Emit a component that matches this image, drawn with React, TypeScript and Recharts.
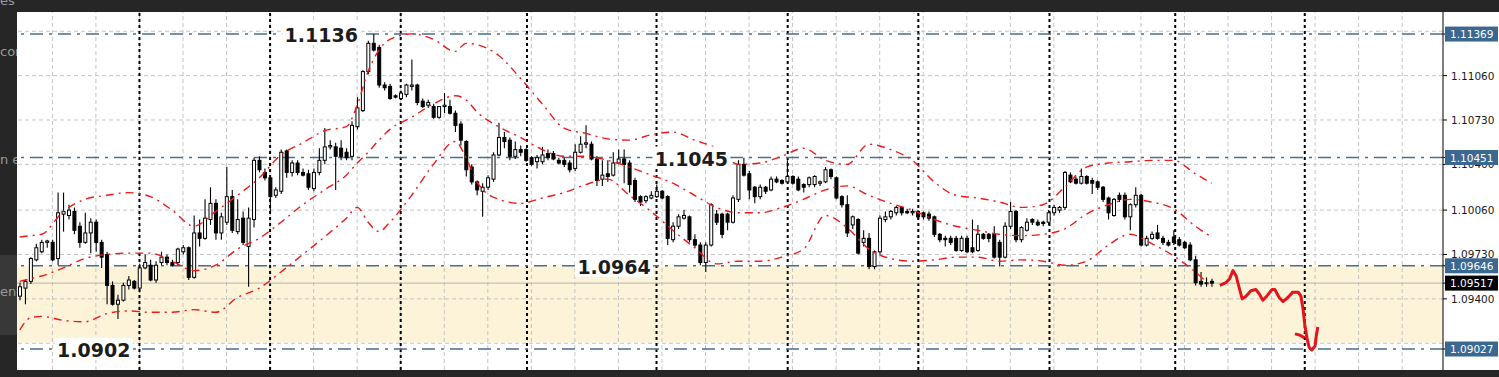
import React from "react";
import {
  ComposedChart,
  Bar,
  Line,
  Scatter,
  XAxis,
  YAxis,
  ReferenceLine,
  ReferenceArea,
  ReferenceDot,
} from "recharts";

// EURUSD H1 candles, one array per session: [open, high, low, close]
type Candle = [number, number, number, number];

const day1: Candle[] = [
  [1.0942, 1.0952, 1.0939, 1.0949], [1.0948, 1.0954, 1.0936, 1.0953], [1.0953, 1.0971, 1.0951, 1.097],
  [1.0969, 1.0981, 1.0968, 1.0978], [1.0975, 1.0984, 1.0974, 1.0982], [1.0982, 1.0984, 1.0978, 1.0983],
  [1.0982, 1.0984, 1.0968, 1.0969], [1.097, 1.1019, 1.0965, 1.1004], [1.1003, 1.1019, 1.099, 1.1005],
  [1.1002, 1.101, 1.0999, 1.1006], [1.1005, 1.1008, 1.0988, 1.0991], [1.0994, 1.0997, 1.0978, 1.0982],
  [1.0982, 1.1004, 1.0981, 1.0989], [1.0989, 1.1, 1.0974, 1.0997], [1.0997, 1.0999, 1.0975, 1.0982],
  [1.0982, 1.0984, 1.0963, 1.0971], [1.0973, 1.0975, 1.0936, 1.095], [1.095, 1.0953, 1.0935, 1.0936],
  [1.0936, 1.0943, 1.0925, 1.0939], [1.0939, 1.0952, 1.0938, 1.095], [1.095, 1.0957, 1.0947, 1.0954],
  [1.0953, 1.0954, 1.0947, 1.0948],
];
const day2: Candle[] = [
  [1.0948, 1.0966, 1.0945, 1.0963], [1.0963, 1.0973, 1.0962, 1.0967], [1.0965, 1.0969, 1.0953, 1.0954],
  [1.0954, 1.0968, 1.0952, 1.0965], [1.0967, 1.0975, 1.0965, 1.0971], [1.0971, 1.0973, 1.0965, 1.0967],
  [1.0967, 1.0969, 1.0964, 1.0965], [1.0967, 1.0978, 1.0965, 1.0977], [1.0975, 1.098, 1.0973, 1.0978],
  [1.0978, 1.0979, 1.0954, 1.0956], [1.0956, 1.1002, 1.0955, 1.0989], [1.0989, 1.0999, 1.0979, 1.0985],
  [1.0985, 1.1014, 1.0984, 1.1], [1.0999, 1.1023, 1.0995, 1.1011], [1.1011, 1.1014, 1.0984, 1.0989],
  [1.0989, 1.1004, 1.0984, 1.1001], [1.0997, 1.1038, 1.0995, 1.1016], [1.1016, 1.1021, 1.0989, 1.0991],
  [1.099, 1.1014, 1.0988, 1.0999], [1.1, 1.1005, 1.098, 1.0982], [1.0979, 1.1008, 1.0949, 1.1],
  [1.0999, 1.1045, 1.0993, 1.1043], [1.1043, 1.1046, 1.1034, 1.1036], [1.1034, 1.1037, 1.1028, 1.103],
];
const day3: Candle[] = [
  [1.103, 1.1031, 1.1005, 1.1016], [1.1017, 1.1023, 1.1015, 1.1021], [1.102, 1.1051, 1.1018, 1.1049],
  [1.105, 1.1051, 1.103, 1.1034], [1.1034, 1.1043, 1.1031, 1.1041], [1.1041, 1.1043, 1.1032, 1.1034],
  [1.1034, 1.1037, 1.1031, 1.1032], [1.1033, 1.1036, 1.1021, 1.1023], [1.1022, 1.1037, 1.102, 1.1034],
  [1.1034, 1.1052, 1.1032, 1.1043], [1.1043, 1.1067, 1.104, 1.1053], [1.1053, 1.1058, 1.1051, 1.1054],
  [1.1053, 1.1056, 1.1021, 1.1046], [1.1052, 1.1058, 1.1043, 1.1046], [1.1049, 1.1052, 1.1043, 1.1045],
  [1.1046, 1.1072, 1.1043, 1.1069], [1.1068, 1.109, 1.1066, 1.1082], [1.108, 1.111, 1.1079, 1.1109],
  [1.1109, 1.1132, 1.1107, 1.113], [1.113, 1.1137, 1.1124, 1.1125], [1.1127, 1.1129, 1.1097, 1.1099],
  [1.1099, 1.1101, 1.1095, 1.1097], [1.1098, 1.11, 1.1088, 1.1089], [1.1091, 1.1092, 1.1089, 1.109],
];
const day4: Candle[] = [
  [1.1089, 1.1095, 1.1088, 1.1093], [1.1092, 1.11, 1.109, 1.1099], [1.1098, 1.1118, 1.1095, 1.1099],
  [1.1099, 1.11, 1.1084, 1.1086], [1.1087, 1.1089, 1.1082, 1.1083], [1.1084, 1.1088, 1.1082, 1.1086],
  [1.1083, 1.1085, 1.1074, 1.1075], [1.1075, 1.1083, 1.1074, 1.1083], [1.1083, 1.1093, 1.1078, 1.1084],
  [1.1083, 1.1088, 1.1077, 1.1078], [1.1078, 1.108, 1.1064, 1.1069], [1.107, 1.1072, 1.1054, 1.1058],
  [1.1057, 1.1058, 1.1031, 1.1036], [1.1038, 1.104, 1.1025, 1.1027], [1.1027, 1.1028, 1.1017, 1.1021],
  [1.102, 1.1026, 1.1001, 1.1023], [1.1023, 1.1032, 1.1021, 1.103], [1.1029, 1.1049, 1.1027, 1.1047],
  [1.1047, 1.1071, 1.1046, 1.106], [1.106, 1.1064, 1.1052, 1.1057], [1.1058, 1.106, 1.1043, 1.1046],
  [1.1046, 1.1057, 1.1044, 1.1051], [1.1051, 1.1054, 1.1046, 1.1049],
];
const day5: Candle[] = [
  [1.1051, 1.1052, 1.1042, 1.1043], [1.1045, 1.1046, 1.1039, 1.104], [1.1042, 1.1047, 1.1037, 1.1045],
  [1.1042, 1.1053, 1.104, 1.1047], [1.1048, 1.1051, 1.1043, 1.1045], [1.1048, 1.105, 1.1043, 1.1044],
  [1.1043, 1.1045, 1.104, 1.1041], [1.1043, 1.1045, 1.1038, 1.104], [1.1041, 1.1043, 1.1034, 1.1036],
  [1.1037, 1.1055, 1.1035, 1.1049], [1.1049, 1.1061, 1.1048, 1.1055], [1.1055, 1.1069, 1.1052, 1.1056],
  [1.1055, 1.1057, 1.1043, 1.1044], [1.1044, 1.1046, 1.1024, 1.1028], [1.1029, 1.1043, 1.1024, 1.1032],
  [1.1033, 1.1043, 1.1027, 1.1031], [1.1032, 1.1049, 1.1031, 1.1041], [1.1041, 1.1051, 1.104, 1.1044],
  [1.1044, 1.1051, 1.1026, 1.104], [1.1041, 1.1043, 1.1019, 1.1025], [1.1028, 1.103, 1.1012, 1.1014],
  [1.1016, 1.1017, 1.1009, 1.1012], [1.1013, 1.1017, 1.1011, 1.1016], [1.1015, 1.102, 1.1014, 1.1017],
];
const day6: Candle[] = [
  [1.1016, 1.1025, 1.1015, 1.102], [1.102, 1.1021, 1.1014, 1.1015], [1.1016, 1.1017, 1.098, 1.0985],
  [1.0984, 1.0997, 1.0982, 1.0994], [1.0994, 1.1003, 1.0992, 1.1001], [1.1, 1.1006, 1.0999, 1.1002],
  [1.1001, 1.1002, 1.0982, 1.0984], [1.0984, 1.0988, 1.0978, 1.098], [1.098, 1.0982, 1.0965, 1.0967],
  [1.0967, 1.0982, 1.096, 1.098], [1.098, 1.1011, 1.0979, 1.101], [1.1003, 1.1006, 1.0995, 1.0997],
  [1.1003, 1.1004, 1.0985, 1.0988], [1.1003, 1.1004, 1.0991, 1.0997], [1.0997, 1.1017, 1.0996, 1.1015],
  [1.1014, 1.1043, 1.1012, 1.104], [1.104, 1.1045, 1.1031, 1.1032], [1.1033, 1.1035, 1.1014, 1.1021],
  [1.1023, 1.1024, 1.1011, 1.1016], [1.1016, 1.1025, 1.1014, 1.1023], [1.1023, 1.1024, 1.1018, 1.102],
  [1.1021, 1.1031, 1.102, 1.1029], [1.1029, 1.1031, 1.1026, 1.1027], [1.1028, 1.1029, 1.1025, 1.1026],
];
const day7: Candle[] = [
  [1.1027, 1.1043, 1.1026, 1.1031], [1.1031, 1.1032, 1.1025, 1.1026], [1.1029, 1.1031, 1.102, 1.1021],
  [1.1025, 1.1026, 1.1019, 1.1023], [1.1025, 1.1031, 1.1023, 1.103], [1.1025, 1.1032, 1.1023, 1.1031],
  [1.1026, 1.1028, 1.1024, 1.1027], [1.1027, 1.1038, 1.1026, 1.1036], [1.1036, 1.1037, 1.1029, 1.1031],
  [1.103, 1.1031, 1.1014, 1.1015], [1.1016, 1.1017, 1.1008, 1.101], [1.101, 1.1017, 1.0986, 1.0989],
  [1.0995, 1.1002, 1.0992, 1.1001], [1.0999, 1.1, 1.0973, 1.0974], [1.0982, 1.0991, 1.0979, 1.0985],
  [1.0985, 1.0989, 1.0962, 1.0964], [1.0964, 1.0976, 1.0962, 1.0975], [1.0975, 1.1002, 1.0973, 1.1],
  [1.0999, 1.1005, 1.0997, 1.1001], [1.1001, 1.1006, 1.0999, 1.1005], [1.1004, 1.1009, 1.1002, 1.1008],
  [1.1008, 1.1009, 1.1002, 1.1004], [1.1005, 1.1007, 1.1003, 1.1004], [1.1004, 1.1007, 1.1002, 1.1005],
];
const day8: Candle[] = [
  [1.1005, 1.1006, 1.0999, 1.1001], [1.1004, 1.1005, 1.0999, 1.1001], [1.1003, 1.1005, 1.0998, 1.1],
  [1.1001, 1.1002, 1.0986, 1.0988], [1.0988, 1.0989, 1.0982, 1.0984], [1.0985, 1.0987, 1.0979, 1.0984],
  [1.0985, 1.0987, 1.098, 1.0982], [1.0985, 1.0987, 1.0975, 1.0976], [1.0976, 1.0987, 1.0975, 1.0985],
  [1.0985, 1.0987, 1.0974, 1.0975], [1.0978, 1.0999, 1.0974, 1.0975], [1.0976, 1.0995, 1.0975, 1.0988],
  [1.0988, 1.0989, 1.0984, 1.0985], [1.0988, 1.0989, 1.0982, 1.0985], [1.0988, 1.0994, 1.097, 1.0971],
  [1.0982, 1.0984, 1.0964, 1.0971], [1.0971, 1.0997, 1.097, 1.0994], [1.0994, 1.1012, 1.0992, 1.1005],
  [1.1005, 1.1006, 1.0982, 1.0984], [1.0984, 1.0994, 1.0982, 1.0993], [1.0991, 1.1, 1.099, 1.0997],
  [1.0999, 1.1, 1.0995, 1.0997], [1.0997, 1.0999, 1.0994, 1.0995], [1.0997, 1.0998, 1.0994, 1.0996],
];
const day9: Candle[] = [
  [1.0997, 1.1006, 1.0995, 1.1004], [1.1004, 1.101, 1.1002, 1.1008], [1.1006, 1.1009, 1.1004, 1.1008],
  [1.1008, 1.1035, 1.1006, 1.1034], [1.1032, 1.1034, 1.1026, 1.1027], [1.1029, 1.1031, 1.1025, 1.1026],
  [1.1026, 1.1037, 1.1025, 1.1031], [1.1031, 1.1032, 1.1025, 1.1026], [1.1028, 1.103, 1.1018, 1.1026],
  [1.1027, 1.1028, 1.1021, 1.1023], [1.1023, 1.1024, 1.1012, 1.1014], [1.1015, 1.1016, 1.0999, 1.1004],
  [1.1002, 1.1015, 1.1001, 1.1014], [1.1017, 1.1019, 1.1012, 1.1014], [1.1017, 1.1019, 1.0999, 1.1001],
  [1.1001, 1.1011, 1.0991, 1.101], [1.101, 1.1023, 1.1008, 1.1017], [1.1017, 1.1018, 1.0979, 1.098],
  [1.098, 1.0987, 1.0979, 1.0985], [1.0985, 1.099, 1.0984, 1.0988], [1.0989, 1.0995, 1.0984, 1.0985],
  [1.0985, 1.0987, 1.098, 1.0982], [1.0982, 1.0984, 1.0979, 1.098],
];
const day10: Candle[] = [
  [1.0986, 1.0991, 1.098, 1.0982], [1.0984, 1.0986, 1.0979, 1.098], [1.0982, 1.0983, 1.0977, 1.0978],
  [1.098, 1.0982, 1.0968, 1.0969], [1.0969, 1.0972, 1.095, 1.0952], [1.0953, 1.096, 1.0949, 1.0951],
  [1.0952, 1.0956, 1.0949, 1.0952], [1.0953, 1.0955, 1.0949, 1.09517],
];

// Bollinger bands at these bar positions
const bandIdx = [0, 2, 4, 8, 12, 16, 20, 24, 28, 32, 36, 40, 44, 48, 52, 56, 60, 62, 64, 66, 68, 72, 76, 80, 82, 84, 88, 92, 96, 100,
  104, 108, 112, 116, 120, 124, 128, 132, 136, 140, 144, 148, 152, 156, 160, 164, 168, 172, 176, 180, 184, 188, 192, 196, 200, 204, 208, 212, 216, 219];
const upperBand = [1.0986, 1.0987, 1.0988, 1.1005, 1.1014, 1.1017, 1.1019, 1.1016, 1.1006, 1.0994,
  1.1005, 1.1017, 1.103, 1.1047, 1.1056, 1.1065, 1.1068, 1.1084, 1.1109, 1.1125,
  1.1133, 1.1137, 1.1133, 1.1124, 1.113, 1.1129, 1.1121, 1.1104, 1.1085, 1.1067,
  1.1063, 1.1059, 1.1058, 1.1062, 1.1064, 1.1058, 1.1052, 1.104, 1.1041, 1.1046,
  1.1052, 1.1043, 1.104, 1.1055, 1.1051, 1.1043, 1.1027, 1.1017, 1.1015, 1.1012,
  1.1008, 1.101, 1.1023, 1.1038, 1.1041, 1.1042, 1.1043, 1.1043, 1.1033, 1.1026];
const middleBand = [1.0953, 1.0955, 1.0957, 1.0963, 1.097, 1.0973, 1.0974, 1.0974, 1.0968, 1.0961,
  1.0965, 1.0977, 1.0985, 1.0997, 1.101, 1.1021, 1.1032, 1.1041, 1.1049, 1.1058,
  1.1066, 1.1075, 1.1085, 1.1091, 1.1088, 1.1079, 1.1068, 1.106, 1.1051, 1.1046,
  1.1046, 1.1043, 1.1038, 1.1032, 1.1026, 1.1017, 1.1008, 1.1004, 1.1004, 1.1008,
  1.1014, 1.1021, 1.1024, 1.1017, 1.1011, 1.1006, 1.0999, 1.0994, 1.0991, 1.0988,
  1.0987, 1.0988, 1.0992, 1.1003, 1.101, 1.1014, 1.1012, 1.1007, 1.0994, 1.0986];
const lowerBand = [1.0917, 1.0926, 1.0927, 1.0924, 1.0923, 1.0929, 1.0931, 1.093, 1.093, 1.0932,
  1.093, 1.0941, 1.0948, 1.096, 1.0973, 1.0986, 1.1, 1.1008, 1.0997, 1.099,
  1.0997, 1.1017, 1.104, 1.1057, 1.1045, 1.1027, 1.1014, 1.1011, 1.1015, 1.1019,
  1.1025, 1.1029, 1.1017, 1.1005, 1.0991, 1.0978, 1.0966, 1.0968, 1.0968, 1.0971,
  1.0977, 1.1002, 1.0993, 1.0977, 1.097, 1.0968, 1.0969, 1.0971, 1.0971, 1.0968,
  1.0969, 1.0968, 1.0965, 1.0968, 1.098, 1.0988, 1.0981, 1.0972, 1.096, 1.0949];

// hand-drawn forecast (bar position, price)
const forecastX = [220.5, 221.6, 222.3, 222.9, 223.5, 224.0, 224.6, 225.3, 226.2, 227.1, 227.7, 228.4, 229.1, 230.1, 230.6,
  231.4, 232.1, 233.0, 233.9, 234.9, 235.4, 235.8, 236.1, 236.5, 236.9, 237.4, 238.0, 238.2, 238.5];
const forecastP = [1.095, 1.0952, 1.0955, 1.0961, 1.0957, 1.0949, 1.094, 1.0942, 1.0946, 1.0947, 1.0944, 1.0939, 1.0942, 1.0947, 1.0947,
  1.0941, 1.0938, 1.0941, 1.0945, 1.0945, 1.0942, 1.0932, 1.0921, 1.0911, 1.0904, 1.0902, 1.0905, 1.0912, 1.0919];
const hookX = [234.3, 235.2, 236.1];
const hookP = [1.0914, 1.0913, 1.0911];

const levels = [1.11369, 1.10451, 1.09646, 1.09027];
const lastPrice = 1.09517;
const zoneBottom = 1.09075;
const gridPrices = [1.0907, 1.094, 1.0973, 1.1006, 1.104, 1.1073, 1.1106, 1.1139];
const axisLabels = [1.094, 1.0973, 1.1006, 1.104, 1.1073, 1.1106];
const daySeparators = [22, 46, 70, 93.2, 117, 141.1, 165.1, 189.2, 212.3, 236.1];
const noteTexts = ["1.1136", "1.1045", "1.0964", "1.0902"];
const noteSlots = [55.4, 123.4, 109.2, 13.6];

const SLOTS = 262;
const candles = [...day1, ...day2, ...day3, ...day4, ...day5, ...day6, ...day7, ...day8, ...day9, ...day10];
const rows = Array.from({ length: SLOTS }, (_, i) => {
  const c = candles[i];
  const b = bandIdx.indexOf(i);
  return {
    i,
    open: c ? c[0] : undefined,
    high: c ? c[1] : undefined,
    low: c ? c[2] : undefined,
    close: c ? c[3] : undefined,
    range: c ? [c[2], c[1]] : undefined,
    ub: b >= 0 ? upperBand[b] : undefined,
    mb: b >= 0 ? middleBand[b] : undefined,
    lb: b >= 0 ? lowerBand[b] : undefined,
  };
});
const forecast = forecastX.map((x, k) => ({ x, p: forecastP[k] }));
const hook = hookX.map((x, k) => ({ x, p: hookP[k] }));
const gridSlots = Array.from({ length: 32 }, (_, k) => 6 + 8 * k);

const Candle = (props: any) => {
  const { x, y, width, height, payload } = props;
  if (!payload || payload.high == null) return <g />;
  const top = Math.min(y, y + height);
  const h = Math.abs(height);
  const k = h / (payload.high - payload.low);
  const cx = x + width / 2;
  const bTop = top + (payload.high - Math.max(payload.open, payload.close)) * k;
  const bBot = top + (payload.high - Math.min(payload.open, payload.close)) * k;
  const up = payload.close >= payload.open;
  return (
    <g>
      <line x1={cx} x2={cx} y1={top} y2={top + h} stroke="#000" strokeWidth={1.1} />
      <rect x={cx - 1.5} y={bTop} width={3} height={Math.max(bBot - bTop, 1)} fill={up ? "#fff" : "#000"} stroke="#000" strokeWidth={1} />
    </g>
  );
};

const PriceTick = (props: any) => {
  const { x, y, payload } = props;
  const v = payload.value;
  const isLevel = levels.includes(v);
  const isLast = v === lastPrice;
  const font = { fontFamily: "DejaVu Sans", fontSize: 10.5 };
  if (isLevel || isLast) {
    return (
      <g>
        <rect x={x - 4} y={y - 7.5} width={53} height={15} fill={isLast ? "#000" : "#3a6890"} />
        <text x={x + 1} y={y + 4} fill="#fff" {...font}>{v.toFixed(5)}</text>
      </g>
    );
  }
  return <text x={x + 2} y={y + 4} fill="#1a1a1a" {...font}>{v.toFixed(5)}</text>;
};

const Note = ({ cx, cy, text }: { cx: number; cy: number; text: string }) => (
  <g>
    <rect x={cx - 39} y={cy - 11} width={78} height={22} fill="#fff" />
    <text x={cx} y={cy + 8} textAnchor="middle" fill="#1c1c1c" fontFamily="DejaVu Sans" fontWeight="bold" fontSize={19}>
      {text}
    </text>
  </g>
);

const sideText = { position: "absolute" as const, left: 0, color: "#9a9a9a", fontFamily: "DejaVu Sans", fontSize: 13, whiteSpace: "nowrap" as const };

export default function App() {
  return (
    <div style={{ position: "fixed", left: 0, top: 0, width: 1499, height: 377, background: "#262626", overflow: "hidden" }}>
      <div style={{ position: "absolute", left: 0, top: 0, width: 17, height: 377, overflow: "hidden" }}>
        <div style={{ position: "absolute", left: 0, top: 255, width: 17, height: 80, background: "#383838" }} />
        <span style={{ ...sideText, top: -7 }}>es</span>
        <span style={{ ...sideText, top: 44 }}>con</span>
        <span style={{ ...sideText, top: 152 }}>n e</span>
        <span style={{ ...sideText, top: 284 }}>ent</span>
      </div>
      <div style={{ position: "absolute", left: 17, top: 12, width: 1482, height: 358, background: "#fff" }} />
      <div style={{ position: "absolute", left: 0, top: 0 }}>
        <ComposedChart width={1499} height={377} data={rows} margin={{ top: 12, right: 0, bottom: 7, left: 17 }}>
          <XAxis xAxisId="c" dataKey="i" type="category" hide />
          <XAxis xAxisId="n" dataKey="x" type="number" domain={[-0.5, SLOTS - 0.5]} allowDataOverflow hide />
          <YAxis
            orientation="right"
            width={56}
            domain={[1.08871, 1.11533]}
            allowDataOverflow
            ticks={[...axisLabels, ...levels, lastPrice]}
            interval={0}
            tickSize={4}
            tickMargin={2}
            tickLine={{ stroke: "#000" }}
            axisLine={{ stroke: "#000" }}
            tick={(p: any) => <PriceTick {...p} />}
          />
          <ReferenceArea xAxisId="n" y1={zoneBottom} y2={levels[2]} fill="#fdf3d9" fillOpacity={1} stroke="none" zIndex={-150} />
          {gridPrices.map((p) => (
            <ReferenceLine key={"h" + p} xAxisId="n" y={p} stroke="#c4c4c4" strokeDasharray="4 3" zIndex={-100} />
          ))}
          {gridSlots.map((s) => (
            <ReferenceLine key={"v" + s} xAxisId="n" x={s} stroke="#c4c4c4" strokeDasharray="4 3" zIndex={-100} />
          ))}
          {daySeparators.map((s) => (
            <ReferenceLine key={"d" + s} xAxisId="n" x={s} stroke="#000" strokeWidth={2} strokeDasharray="3 3" zIndex={-90} />
          ))}
          <ReferenceLine xAxisId="n" y={lastPrice} stroke="#b4b4b4" strokeWidth={1} zIndex={200} />
          {levels.map((p) => (
            <ReferenceLine key={"l" + p} xAxisId="n" y={p} stroke="#4a6f8e" strokeWidth={1.4} strokeDasharray="13 6 3 6" zIndex={200} />
          ))}
          <Bar xAxisId="c" dataKey="range" barSize={4} shape={(p: any) => <Candle {...p} />} isAnimationActive={false} />
          {(["ub", "mb", "lb"] as const).map((k) => (
            <Line
              key={k}
              xAxisId="c"
              dataKey={k}
              type="monotone"
              connectNulls
              dot={false}
              stroke="#f01818"
              strokeWidth={1.4}
              strokeDasharray="8 5 2 5"
              isAnimationActive={false}
            />
          ))}
          <Scatter xAxisId="n" data={forecast} dataKey="p" line={{ stroke: "#e3141b", strokeWidth: 3, strokeLinejoin: "round" }} shape={() => <g />} isAnimationActive={false} />
          <Scatter xAxisId="n" data={hook} dataKey="p" line={{ stroke: "#e3141b", strokeWidth: 3 }} shape={() => <g />} isAnimationActive={false} />
          {noteTexts.map((t, k) => (
            <ReferenceDot
              key={t}
              xAxisId="n"
              x={noteSlots[k]}
              y={levels[k]}
              zIndex={700}
              shape={(p: any) => <Note cx={p.cx} cy={p.cy} text={t} />}
            />
          ))}
        </ComposedChart>
      </div>
    </div>
  );
}
